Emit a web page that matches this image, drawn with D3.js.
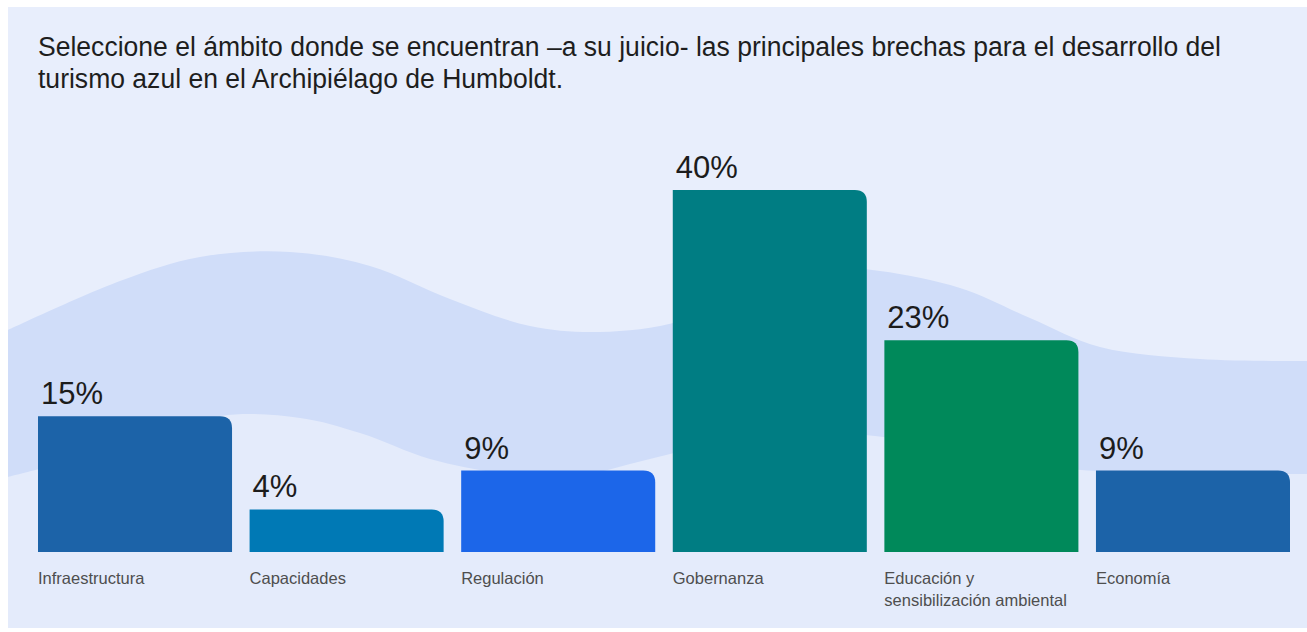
<!DOCTYPE html>
<html>
<head>
<meta charset="utf-8">
<script src="https://cdn.jsdelivr.net/npm/d3@7"></script>
<style>
  html, body { margin: 0; padding: 0; background: #ffffff; }
  svg { display: block; }
</style>
</head>
<body>
<svg id="chart" width="1307" height="632"></svg>
<script>
// ---- data ----
const categories = ["Infraestructura", "Capacidades", "Regulación", "Gobernanza", "Educación y sensibilización ambiental", "Economía"];
const values = [15, 4.7, 9, 40, 23.4, 9];
const valueLabels = ["15%", "4%", "9%", "40%", "23%", "9%"];
const barColors = ["#1c63a8", "#0079b5", "#1c66e9", "#007d83", "#00895a", "#1c63a8"];
const titleLines = [
  "Seleccione el ámbito donde se encuentran –a su juicio- las principales brechas para el desarrollo del",
  "turismo azul en el Archipiélago de Humboldt."
];
// decorative background wave outlines (x, y)
const waveUpper = [[8,330],[120,281],[200,257],[290,252],[370,266],[450,299],[530,326],[600,332],[680,321],[760,282],[820,268],[880,271],[960,288],[1030,318],[1100,347],[1200,359],[1307,361]];
const waveLower = [[8,477],[110,450],[220,416],[300,418],[360,433],[430,459],[500,473],[570,477],[650,459],[730,440],[800,433],[875,436],[960,451],[1040,466],[1120,472],[1307,474]];

const W = 1307, H = 632;
const svg = d3.select("#chart");

// panel
svg.append("rect").attr("x", 8).attr("y", 7).attr("width", W - 8).attr("height", 621).attr("fill", "#e8eefc");

const clip = svg.append("clipPath").attr("id", "pc");
clip.append("rect").attr("x", 8).attr("y", 7).attr("width", W - 8).attr("height", 621);
const bg = svg.append("g").attr("clip-path", "url(#pc)");

const area = d3.area().x(d => d[0]).y0(H).y1(d => d[1]).curve(d3.curveCatmullRom.alpha(0.5));
bg.append("path").datum(waveUpper).attr("d", area).attr("fill", "#d0ddf9");
bg.append("path").datum(waveLower).attr("d", area).attr("fill", "#e4ebfb");

// title
const titleG = svg.append("g");
const tl = titleG.selectAll("text").data(titleLines).join("text")
  .attr("x", 38)
  .attr("y", (d, i) => 56 + i * 32)
  .attr("font-family", "'Liberation Sans', Arial, sans-serif")
  .attr("font-size", 27)
  .attr("fill", "#1e1e1e")
  .text(d => d);
const w0 = tl.nodes()[0].getComputedTextLength();
const factor = 1183 / w0;
tl.each(function () {
  const w = this.getComputedTextLength();
  d3.select(this).attr("textLength", w * factor).attr("lengthAdjust", "spacingAndGlyphs");
});

// scales
const x = d3.scaleBand().domain(categories).range([38, 1290]).paddingInner(0.083).paddingOuter(0);
const y = d3.scaleLinear().domain([0, 40]).range([552, 190]);

const r = 12;
function barPath(d, i) {
  const x0 = x(d), w = x.bandwidth(), y0 = y(0), yt = y(values[i]);
  return `M${x0},${y0}V${yt}H${x0 + w - r}Q${x0 + w},${yt} ${x0 + w},${yt + r}V${y0}Z`;
}

svg.append("g").selectAll("path").data(categories).join("path")
  .attr("d", (d, i) => barPath(d, i))
  .attr("fill", (d, i) => barColors[i]);

// value labels
svg.append("g").selectAll("text").data(categories).join("text")
  .attr("x", d => x(d) + 3)
  .attr("y", (d, i) => y(values[i]) - 12)
  .attr("font-family", "'Liberation Sans', Arial, sans-serif")
  .attr("font-size", 31)
  .attr("fill", "#1c1c1c")
  .text((d, i) => valueLabels[i]);

// category labels (wrapped to band width)
const catG = svg.append("g");
const maxW = x.bandwidth() - 6;
categories.forEach(c => {
  const t = catG.append("text")
    .attr("x", x(c))
    .attr("y", 584)
    .attr("font-family", "'Liberation Sans', Arial, sans-serif")
    .attr("font-size", 16.5)
    .attr("fill", "#4e4e4e");
  const words = c.split(" ");
  let line = [];
  let ts = t.append("tspan").attr("x", x(c)).attr("dy", 0);
  words.forEach(wd => {
    line.push(wd);
    ts.text(line.join(" "));
    if (ts.node().getComputedTextLength() > maxW && line.length > 1) {
      line.pop();
      ts.text(line.join(" "));
      line = [wd];
      ts = t.append("tspan").attr("x", x(c)).attr("dy", 22).text(wd);
    }
  });
});
</script>
</body>
</html>
